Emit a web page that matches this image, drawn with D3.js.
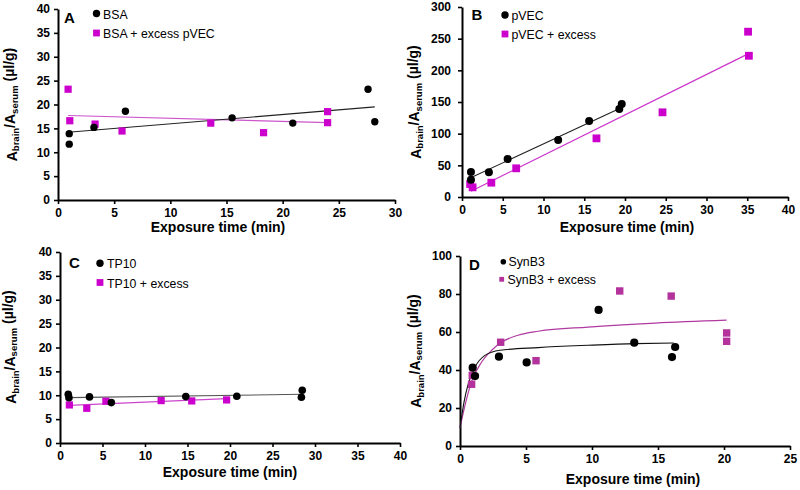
<!DOCTYPE html>
<html><head><meta charset="utf-8">
<script src="https://cdn.jsdelivr.net/npm/d3@7"></script>
<style>
body{margin:0;background:#fff}
svg{display:block}
text{font-family:"Liberation Sans",Arial,Helvetica,sans-serif}
</style>
</head><body>
<svg id="chart" width="800" height="490"></svg>
<script>
// ---------- DATA ----------
// Panel A
const bsa        = [[1.0,11.7],[1.0,13.9],[3.2,15.2],[6.0,18.6],[15.5,17.2],[20.9,16.1],[27.6,23.2],[28.2,16.4]];
const bsaExcess  = [[0.9,23.2],[1.05,16.6],[3.3,15.9],[5.7,14.45],[13.6,16.1],[18.3,14.1],[24.0,18.5],[24.0,16.2]];
const bsaFit       = [[0.9,14.2],[28.2,19.5]];
const bsaExcessFit = [[0.9,17.7],[24.0,16.2]];
const legendA = ["BSA","BSA + excess pVEC"];
const xTicksA = [0,5,10,15,20,25,30];
const yTicksA = [0,5,10,15,20,25,30,35,40];

// Panel B
const pvec       = [[1.1,39.5],[1.1,27.4],[3.3,38.9],[5.6,60],[11.8,90],[15.6,120],[19.3,139],[19.6,147]];
const pvecExcess = [[1.0,20.5],[1.3,15.3],[3.6,22.6],[6.65,45.3],[16.5,92.6],[24.6,133.7],[35.1,261],[35.2,223]];
const pvecFit       = [[1.0,30],[19.4,140]];
const pvecExcessFit = [[1.1,9],[35.1,226]];
const legendB = ["pVEC","pVEC + excess"];
const xTicksB = [0,5,10,15,20,25,30,35,40];
const yTicksB = [0,50,100,150,200,250,300];

// Panel C
const tp10       = [[0.97,10.2],[1.05,9.5],[3.47,9.65],[6.04,8.46],[14.8,9.72],[20.8,9.79],[28.5,11.05],[28.4,9.58]];
const tp10Excess = [[1.1,7.97],[3.15,7.27],[5.4,8.74],[11.9,8.88],[15.5,8.81],[19.6,9.02]];
const tp10Fit       = [[1.0,9.5],[28.5,10.2]];
const tp10ExcessFit = [[1.1,7.9],[19.6,9.3]];
const legendC = ["TP10","TP10 + excess"];
const xTicksC = [0,5,10,15,20,25,30,35,40];
const yTicksC = [0,5,10,15,20,25,30,35,40];

// Panel D
const synb3       = [[0.96,41.2],[1.14,36.8],[2.95,47],[5.05,44],[10.5,71.6],[13.2,54.4],[16.06,46.8],[16.3,52.1]];
const synb3Excess = [[0.88,32.5],[0.93,37.2],[3.08,54.6],[5.76,44.9],[12.1,81.6],[16.0,78.9],[20.2,59.5],[20.2,55.1]];
const synb3Fit       = [[0,9.5],[0.3,23],[0.63,32.8],[1.14,41.6],[1.89,47.7],[3.03,50.4],[5.93,51.8],[9.7,53],[13.3,53.9],[16.2,54.2]];
const synb3ExcessFit = [[0,9.5],[0.4,22],[0.88,34],[1.64,44.2],[2.4,50.4],[3.16,54.7],[4.4,58.3],[5.93,60.4],[9.7,62.6],[14.8,64.7],[20.2,66.2]];
const legendD = ["SynB3","SynB3 + excess"];
const xTicksD = [0,5,10,15,20,25];
const yTicksD = [0,20,40,60,80,100];

const xTitle = "Exposure time (min)";

// ---------- LAYOUT ----------
const svg = d3.select("#chart");

const panels = [
  {letter:"A", xt:xTicksA, yt:yTicksA, xr:[58,395], yr:[200,9], circ:bsa, sq:bsaExcess, fitC:bsaFit, fitS:bsaExcessFit, legend:legendA,
   sqColor:"#cc00cc", fitCColor:"#222", fitSColor:"#cc55cc", curve:d3.curveLinear, r:3.7, s:7.2,
   letterPos:[64,22.5], legPos:[96.5,13.5,103,18.5, 96.5,33,103,38], legR:3.7, legS:6.8,
   xtPos:[218,232], ytPos:[16.5,104.5], yPad:4},
  {letter:"B", xt:xTicksB, yt:yTicksB, xr:[462,788], yr:[197,7], circ:pvec, sq:pvecExcess, fitC:pvecFit, fitS:pvecExcessFit, legend:legendB,
   sqColor:"#cc00cc", fitCColor:"#222", fitSColor:"#cc33cc", curve:d3.curveLinear, r:4, s:7.8,
   letterPos:[471.5,20], legPos:[505,15,511.5,19.5, 505,34,511.5,38.5], legR:3.7, legS:6.8,
   xtPos:[627,232], ytPos:[420.5,102], yPad:7},
  {letter:"C", xt:xTicksC, yt:yTicksC, xr:[60,400], yr:[443,252], circ:tp10, sq:tp10Excess, fitC:tp10Fit, fitS:tp10ExcessFit, legend:legendC,
   sqColor:"#cc00cc", fitCColor:"#555", fitSColor:"#cc44cc", curve:d3.curveLinear, r:3.8, s:7.2,
   letterPos:[69,268.3], legPos:[100,263.3,107,268, 100,282.5,107,287.5], legR:3.7, legS:6.8,
   xtPos:[230,477], ytPos:[16,347], yPad:4},
  {letter:"D", xt:xTicksD, yt:yTicksD, xr:[460,790], yr:[446,256], circ:synb3, sq:synb3Excess, fitC:synb3Fit, fitS:synb3ExcessFit, legend:legendD,
   sqColor:"#b3329b", fitCColor:"#111", fitSColor:"#b03aa0", curve:d3.curveMonotoneX, r:4.1, s:7.4,
   letterPos:[469,270], legPos:[503.3,261.7,508.5,266, 501.7,279.3,507.5,283.5], legR:2.8, legS:4.8,
   xtPos:[633,484], ytPos:[421,351], yPad:4}
];

panels.forEach(p => {
  const x = d3.scaleLinear().domain([p.xt[0], p.xt[p.xt.length-1]]).range(p.xr);
  const y = d3.scaleLinear().domain([p.yt[0], p.yt[p.yt.length-1]]).range(p.yr);
  const g = svg.append("g");

  // axes
  const ax = g.append("g").attr("transform",`translate(0,${p.yr[0]})`)
    .call(d3.axisBottom(x).tickValues(p.xt).tickSize(4).tickSizeOuter(0).tickPadding(4));
  const ay = g.append("g").attr("transform",`translate(${p.xr[0]},0)`)
    .call(d3.axisLeft(y).tickValues(p.yt).tickSize(4).tickSizeOuter(0).tickPadding(p.yPad));
  [ax,ay].forEach(a=>{
    a.select(".domain").attr("stroke","#000").attr("stroke-width",2);
    a.selectAll(".tick line").attr("stroke","#000").attr("stroke-width",1.6);
    a.selectAll(".tick text").attr("fill","#000").style("font-size","12px").style("font-weight","bold")
      .style("font-family",'"Liberation Sans",Arial,sans-serif');
  });

  // fit lines
  const line = d3.line().x(d=>x(d[0])).y(d=>y(d[1])).curve(p.curve);
  g.append("path").datum(p.fitS).attr("d",line).attr("fill","none").attr("stroke",p.fitSColor).attr("stroke-width",1.2);
  g.append("path").datum(p.fitC).attr("d",line).attr("fill","none").attr("stroke",p.fitCColor).attr("stroke-width",1.1);

  // markers
  g.selectAll(".sq").data(p.sq).enter().append("rect")
    .attr("x",d=>x(d[0])-p.s/2).attr("y",d=>y(d[1])-p.s/2).attr("width",p.s).attr("height",p.s)
    .attr("fill",p.sqColor);
  g.selectAll(".ci").data(p.circ).enter().append("circle")
    .attr("cx",d=>x(d[0])).attr("cy",d=>y(d[1])).attr("r",p.r).attr("fill","#000");

  // panel letter
  g.append("text").attr("x",p.letterPos[0]).attr("y",p.letterPos[1]).text(p.letter)
    .style("font-size","15px").style("font-weight","bold");

  // legend
  const L = p.legPos;
  g.append("circle").attr("cx",L[0]).attr("cy",L[1]).attr("r",p.legR).attr("fill","#000");
  g.append("text").attr("x",L[2]).attr("y",L[3]).text(p.legend[0]).style("font-size","12.3px");
  g.append("rect").attr("x",L[4]-p.legS/2).attr("y",L[5]-p.legS/2).attr("width",p.legS).attr("height",p.legS).attr("fill",p.sqColor);
  g.append("text").attr("x",L[6]).attr("y",L[7]).text(p.legend[1]).style("font-size","12.3px");

  // x title
  g.append("text").attr("x",p.xtPos[0]).attr("y",p.xtPos[1]).attr("text-anchor","middle")
    .text(xTitle).style("font-size","14px").style("font-weight","bold");

  // y title with subscripts
  const yt = g.append("text").attr("transform",`translate(${p.ytPos[0]},${p.ytPos[1]}) rotate(-90)`)
    .attr("text-anchor","middle").style("font-size","14px").style("font-weight","bold");
  yt.append("tspan").text("A");
  yt.append("tspan").attr("dy","0.28em").style("font-size","9.5px").text("brain");
  yt.append("tspan").attr("dy","-0.28em").text("/A");
  yt.append("tspan").attr("dy","0.28em").style("font-size","9.5px").text("serum");
  yt.append("tspan").attr("dy","-0.28em").text(" (µl/g)");
});
</script>
</body></html>
